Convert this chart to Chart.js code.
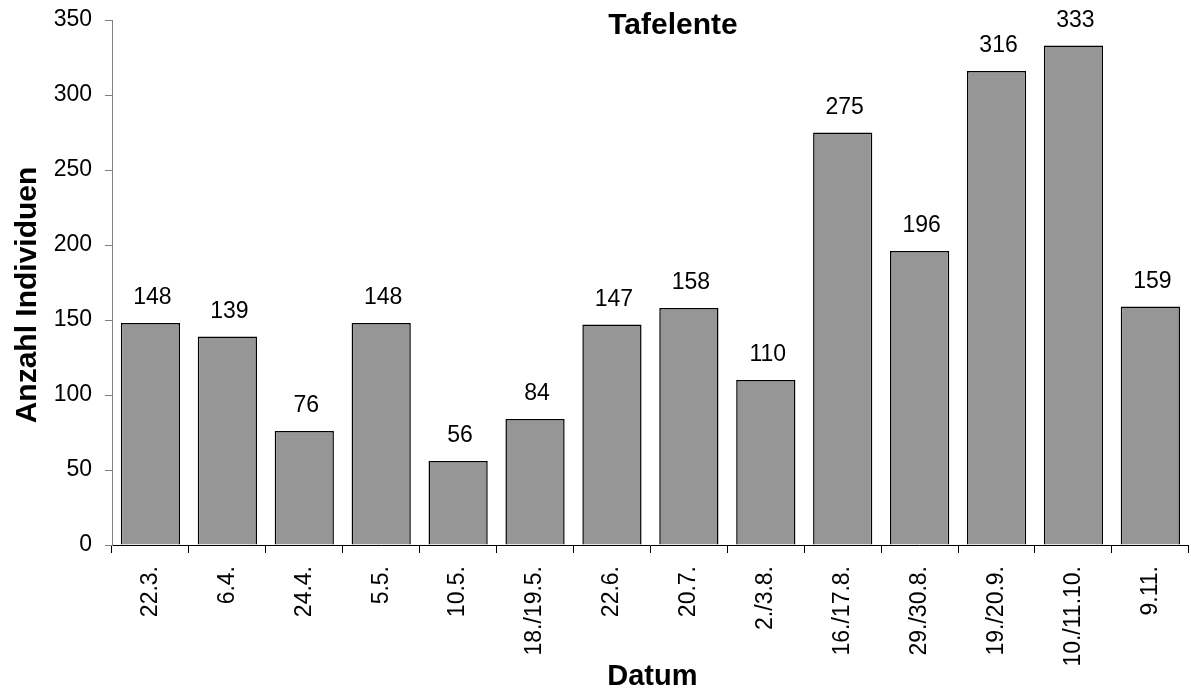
<!DOCTYPE html>
<html>
<head>
<meta charset="utf-8">
<script src="https://cdn.jsdelivr.net/npm/chart.js@4/dist/chart.umd.min.js"></script>
<style>
  body { margin: 0; background: #fff; }
  canvas { display: block; }
</style>
</head>
<body>
<canvas id="grafico" width="1191" height="688"></canvas>
<script>
// Daten
const datum = ['22.3.', '6.4.', '24.4.', '5.5.', '10.5.', '18./19.5.', '22.6.', '20.7.', '2./3.8.', '16./17.8.', '29./30.8.', '19./20.9.', '10./11.10.', '9.11.'];
const anzahl = [148, 139, 76, 148, 56, 84, 147, 158, 110, 275, 196, 316, 333, 159];
const yTicks = [0, 50, 100, 150, 200, 250, 300, 350];

const schrift = '"Liberation Sans", Arial, sans-serif';

// Titel, Achsentitel + Werte über den Balken
const beschriftung = {
    id: 'beschriftung',
    afterDatasetsDraw(chart) {
        const ctx = chart.ctx;
        const area = chart.chartArea;
        ctx.save();
        ctx.fillStyle = '#000';
        ctx.font = '23px ' + schrift;
        ctx.textAlign = 'center';
        ctx.textBaseline = 'alphabetic';
        chart.getDatasetMeta(0).data.forEach((bar, i) => {
            ctx.fillText(String(anzahl[i]), bar.x + 2, bar.y - 19);
        });
        ctx.font = 'bold 30px ' + schrift;
        ctx.fillText('Tafelente', 673, 34);
        // X-Achsentitel
        ctx.font = 'bold 29px ' + schrift;
        ctx.fillText('Datum', (area.left + area.right) / 2 + 2, 685);
        // Y-Achsentitel
        ctx.font = 'bold 30px ' + schrift;
        ctx.translate(36, 295);
        ctx.rotate(-Math.PI / 2);
        ctx.fillText('Anzahl Individuen', 0, 0);
        ctx.restore();
    }
};

const ctx = document.getElementById('grafico').getContext('2d');
new Chart(ctx, {
    type: 'bar',
    data: {
        labels: datum,
        datasets: [{
            label: 'Tafelente',
            data: anzahl,
            backgroundColor: '#969696',
            borderColor: '#000',
            borderWidth: 1.5,
            barPercentage: 0.77,
            categoryPercentage: 1
        }]
    },
    options: {
        responsive: false,
        animation: false,
        layout: { padding: { top: 20, right: 1, left: 0, bottom: 0 } },
        plugins: {
            legend: { display: false },
            tooltip: { enabled: false }
        },
        scales: {
            x: {
                afterFit(scale) { scale.height = 143; },
                grid: { display: true, drawOnChartArea: false, offset: true, color: '#000', tickLength: 8 },
                border: { color: '#000', width: 1 },
                ticks: {
                    color: '#000',
                    font: { family: schrift, size: 23 },
                    minRotation: 90,
                    maxRotation: 90,
                    padding: 13,
                    autoSkip: false
                }
            },
            y: {
                min: 0,
                max: 350,
                afterFit(scale) {
                    scale.width = 112;
                    scale.paddingTop = 0;
                    scale.paddingBottom = 0;
                },
                afterBuildTicks(scale) { scale.ticks = yTicks.map(v => ({ value: v })); },
                grid: { display: true, drawOnChartArea: false, color: '#808080', tickLength: 7 },
                border: { color: '#808080', width: 1 },
                ticks: {
                    color: '#000',
                    font: { family: schrift, size: 23 },
                    padding: 13
                }
            }
        }
    },
    plugins: [beschriftung]
});
</script>
</body>
</html>
